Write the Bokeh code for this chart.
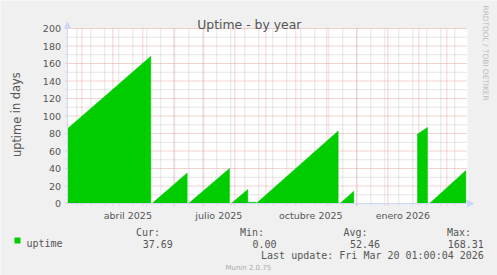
import pandas as pd
from bokeh.plotting import figure
from bokeh.models import Range1d, Label, Arrow, NormalHead
from bokeh.core.properties import value
from bokeh.embed import file_html
from bokeh.resources import INLINE

# ---------------- data ----------------
seg_start = ["2025-02-14 16:00", "2025-05-10 04:00", "2025-06-15 16:00",
             "2025-07-28 09:00", "2025-08-14 08:00", "2025-08-22 09:00",
             "2025-11-14 04:00", "2026-01-30 16:00", "2026-02-11 16:00"]
seg_end = ["2025-05-09 00:00", "2025-06-14 09:00", "2025-07-26 16:00",
           "2025-08-13 23:00", "2025-08-22 09:00", "2025-11-12 09:00",
           "2025-11-27 23:00", "2026-02-09 16:00", "2026-03-20 01:00"]
start_val = [85.5, 0.0, 0.0, 0.0, 1.5, 0.0, 0.0, 79.5, 0.0]
end_val = [168.31, 35.0, 40.0, 16.0, 1.5, 83.0, 14.0, 87.0, 37.69]

x_label_dates = ["2025-04-16", "2025-07-16", "2025-10-16", "2026-01-16"]
x_labels = ["abril 2025", "julio 2025", "octubre 2025", "enero 2026"]
month_starts = ["2025-03-01", "2025-04-01", "2025-05-01", "2025-06-01",
                "2025-07-01", "2025-08-01", "2025-09-01", "2025-10-01",
                "2025-11-01", "2025-12-01", "2026-01-01", "2026-02-01",
                "2026-03-01"]
y_ticks = [0, 20, 40, 60, 80, 100, 120, 140, 160, 180, 200]
y_minor = [10, 30, 50, 70, 90, 110, 130, 150, 170, 190]

title = "Uptime - by year"
y_title = "uptime in days"
legend_name = "uptime"
stat_names = ["Cur:", "Min:", "Avg:", "Max:"]
stat_values = ["37.69", "0.00", "52.46", "168.31"]
last_update = "Last update: Fri Mar 20 01:00:04 2026"
watermark = "RRDTOOL / TOBI OETIKER"
footer = "Munin 2.0.75"

# ---------------- layout constants ----------------
W, H = 497, 275
PL, PR, PT, PB = 67, 467, 28, 203        # plot area in canvas px
t0 = pd.Timestamp("2025-02-14 16:00")     # time at left edge of plot area
DAY = pd.Timedelta(days=1)                # 1 px per day
t1 = t0 + (PR - PL) * DAY
UPP = 200.0 / (PB - PT)                   # value units per px

def ms(t):
    return pd.Timestamp(t).value / 1e6

GREEN = "#00CC00"
AXIS = "#CFD6F8"
FONT = "#555555"
MGRID = "#EBA4A4"
GRID = "#CACACA"

p = figure(width=W, height=H, output_backend="svg", toolbar_location=None,
           x_axis_location=None, y_axis_location=None,
           x_range=Range1d(t0 - PL * DAY, t0 + (W - PL) * DAY),
           y_range=Range1d(-(H - PB) * UPP, 200 + PT * UPP),
           min_border=0)
p.title.visible = False
p.grid.visible = False
p.outline_line_color = None
p.background_fill_color = "#F0F0F0"
p.border_fill_color = "#F0F0F0"
p.extra_x_ranges = {"px": Range1d(0, W)}
p.extra_y_ranges = {"px": Range1d(H, 0)}

# plot canvas
p.quad(left=[t0], right=[t1], bottom=[0], top=[200], fill_color="white",
       line_color=None)

# grid (minor then major); lines run slightly past the axes like rrdtool ticks
tick_ext = 2.0
mstarts = [pd.Timestamp(t) for t in month_starts]
biweekly = [t for t in pd.date_range("2025-02-24", t1, freq="14D")]
p.segment(x0=[t0 - tick_ext * DAY] * len(y_minor), x1=[t1] * len(y_minor),
          y0=y_minor, y1=y_minor, line_color=GRID, line_dash="1 1", line_width=1)
p.segment(x0=biweekly, x1=biweekly, y0=[-tick_ext * UPP] * len(biweekly),
          y1=[200] * len(biweekly), line_color=GRID, line_dash="1 1", line_width=1)
p.segment(x0=[t0 - tick_ext * DAY] * 10, x1=[t1] * 10, y0=y_ticks[1:],
          y1=y_ticks[1:], line_color=MGRID, line_dash="1 1", line_width=1)
p.segment(x0=mstarts, x1=mstarts, y0=[-tick_ext * UPP] * len(mstarts),
          y1=[200] * len(mstarts), line_color=MGRID, line_dash="1 1", line_width=1)

# area segments
xs, ys = [], []
for s, e, v0, v1 in zip(seg_start, seg_end, start_val, end_val):
    s, e = pd.Timestamp(s), pd.Timestamp(e)
    xs.append([s, s, e, e])
    ys.append([0, v0, v1, 0])
p.patches(xs=xs, ys=ys, fill_color=GREEN, line_color=GREEN, line_width=0.5)

# axes with arrows
p.add_layout(Arrow(end=NormalHead(size=6, fill_color=AXIS, line_color=AXIS),
                   x_start=ms(t0 - 1 * DAY), x_end=ms(t1 + 6 * DAY),
                   y_start=0, y_end=0, line_color=AXIS, line_width=1))
p.add_layout(Arrow(end=NormalHead(size=6, fill_color=AXIS, line_color=AXIS),
                   x_start=ms(t0), x_end=ms(t0), y_start=-1 * UPP,
                   y_end=200 + 6.5 * UPP, line_color=AXIS, line_width=1))

SANS = value("DejaVu Sans")

# tick labels
p.text(x=[PL - 6.5] * len(y_ticks), y=y_ticks, text=[str(v) for v in y_ticks],
       x_range_name="px", text_font=SANS, text_font_size="9.5px",
       text_color=FONT, text_align="right", text_baseline="middle")
p.text(x=[pd.Timestamp(d) for d in x_label_dates], y=[215] * len(x_labels),
       text=x_labels, y_range_name="px", text_font=SANS,
       text_font_size="9.5px", text_color=FONT, text_align="center",
       text_baseline="alphabetic")

def lab(text, cx, cy, size, font="DejaVu Sans", color=FONT, align="left",
        angle=0.0):
    p.add_layout(Label(x=cx, y=H - cy, x_units="screen", y_units="screen",
                       text=text, text_font=font, text_font_size=size,
                       text_color=color, text_align=align,
                       text_baseline="alphabetic", angle=angle))

lab(title, 248.8, 23.5, "12.4px", align="center")
lab(y_title, 16, 114.2, "11.4px", align="center", angle=1.5708)
lab(watermark, 485, 5, "7.4px", color="#BBBBBB", angle=-1.5708)

head_x = [135.5, 239.5, 343.0, 446.5]
val_right = [172.3, 276.0, 379.5, 483.3]
for name, hx in zip(stat_names, head_x):
    lab(name, hx, 232, "10px", font="DejaVu Sans Mono")
for v, rx in zip(stat_values, val_right):
    lab(v, rx, 243, "10px", font="DejaVu Sans Mono", align="right")
lab(legend_name, 26, 243, "10px", font="DejaVu Sans Mono")
lab(last_update, 483.3, 254.5, "10px", font="DejaVu Sans Mono", align="right")
lab(footer, 247.8, 267, "7px", color="#AAAAAA", align="center")

# legend swatch
p.quad(left=[14], right=[20], top=[237], bottom=[243], x_range_name="px",
       y_range_name="px", fill_color=GREEN, line_color=None)

open("out.html", "w").write(file_html(p, INLINE))
